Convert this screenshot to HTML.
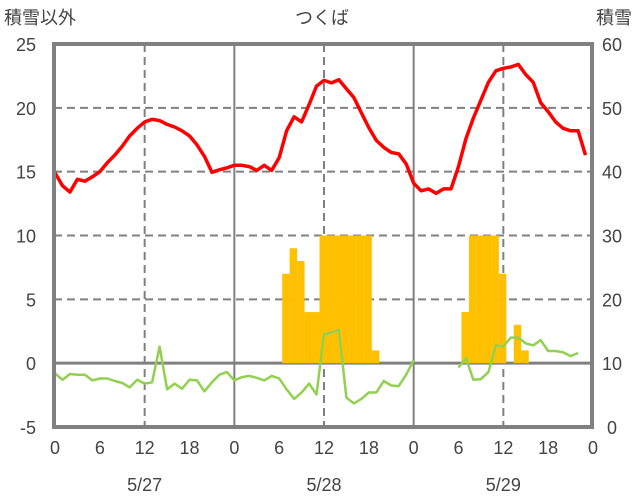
<!DOCTYPE html>
<html><head><meta charset="utf-8">
<style>
body{margin:0;background:#fff;}
svg{display:block;font-family:"Liberation Sans","Noto Sans CJK JP",sans-serif;}
</style></head>
<body>
<svg id="chart" width="636" height="501" viewBox="0 0 636 501" xmlns="http://www.w3.org/2000/svg">
<text x="4" y="24" font-size="18" fill="#444">積雪以外</text>
<text x="322" y="24" font-size="18" fill="#444" text-anchor="middle">つくば</text>
<text x="632" y="24" font-size="18" fill="#444" text-anchor="end">積雪</text>
<g id="grid"></g>
<g id="bars"></g>
<g id="lines"></g>
<g id="labels"></g>
<rect x="54" y="44" width="538" height="383" fill="none" stroke="#808080" stroke-width="4"/>
</svg>
<script>
const hours = 72;
const temp = [14.9,13.9,13.4,14.4,14.25,14.6,15.0,15.7,16.3,17.0,17.8,18.4,18.9,19.1,19.0,18.7,18.5,18.2,17.8,17.1,16.2,14.95,15.15,15.3,15.5,15.5,15.4,15.1,15.5,15.1,16.1,18.2,19.3,18.9,20.25,21.7,22.15,21.95,22.2,21.5,20.8,19.6,18.45,17.45,16.9,16.5,16.4,15.6,14.1,13.5,13.65,13.3,13.65,13.65,15.4,17.6,19.2,20.6,22.0,22.9,23.1,23.2,23.4,22.6,22.0,20.4,19.7,18.9,18.4,18.2,18.2,16.3];
const green = [-0.8,-1.3,-0.85,-0.9,-0.9,-1.35,-1.2,-1.2,-1.4,-1.55,-1.9,-1.3,-1.6,-1.5,1.3,-2.05,-1.6,-2.0,-1.3,-1.35,-2.2,-1.5,-0.9,-0.7,-1.35,-1.1,-1.0,-1.15,-1.35,-1.0,-1.2,-2.05,-2.8,-2.3,-1.6,-2.45,2.25,2.4,2.6,-2.7,-3.15,-2.8,-2.3,-2.3,-1.4,-1.75,-1.8,-0.9,0.25,null,null,null,null,null,-0.35,0.4,-1.3,-1.25,-0.7,1.4,1.3,2.0,2.0,1.55,1.4,1.8,0.95,0.95,0.85,0.55,0.8,null];
const precip = [0,0,0,0,0,0,0,0,0,0,0,0,0,0,0,0,0,0,0,0,0,0,0,0,0,0,0,0,0,0,0,7,9,8,4,4,10,10,10,10,10,10,10,1,0,0,0,0,0,0,0,0,0,0,0,4,10,10,10,10,7,0,3,1,0,0,0,0,0,0,0,0];
const snow = [0,0,0,0,0,0,0,0,0,0];
const leftTicks = [25,20,15,10,5,0,-5];
const rightTicks = [60,50,40,30,20,10,0];
const xTicks = ["0","6","12","18","0","6","12","18","0","6","12","18","0"];
const dates = ["5/27","5/28","5/29"];

const NS="http://www.w3.org/2000/svg";
const X0=54,X1=592,Y0=44,Y1=427;
const xs=h=>X0+(h/hours)*(X1-X0)+1;
const yL=v=>Y1-(v+5)/30*(Y1-Y0);
const yR=v=>Y1-v/60*(Y1-Y0);
function mk(tag,attrs,parent){const e=document.createElementNS(NS,tag);for(const k in attrs)e.setAttribute(k,attrs[k]);document.getElementById(parent).appendChild(e);return e;}

leftTicks.forEach(v=>{
  const y=yL(v);
  if(v!==25&&v!==-5){
    const l=mk('line',{x1:X0,x2:X1,y1:y,y2:y,stroke:'#808080','stroke-width':v===0?3:2,'stroke-dasharray':v===0?'none':'8,5'},'grid');
    
    
  }
  const t=mk('text',{x:36,y:y+7,'font-size':18,fill:'#444','text-anchor':'end'},'labels');
  t.textContent=v;
  
  
});
rightTicks.forEach(v=>{
  const t=mk('text',{x:612,y:yR(v)+7,'font-size':18,fill:'#444','text-anchor':'middle'},'labels');
  t.textContent=v;
  
  
});
xTicks.forEach((s,i)=>{
  const h=i*6,x=xs(h);
  if(i>0&&i<xTicks.length-1&&i%2===0){
    const day=(i%4===0);
    const l=mk('line',{x1:x,x2:x,y1:Y0,y2:Y1,stroke:'#808080','stroke-width':2,'stroke-dasharray':day?'none':'8,5'},'grid');
    
    
  }
  const t=mk('text',{x:x,y:454,'font-size':18,fill:'#444','text-anchor':'middle'},'labels');
  t.textContent=s;
  
  
});
dates.forEach((d,i)=>{
  const t=mk('text',{x:xs(12+24*i),y:491,'font-size':18,fill:'#444','text-anchor':'middle'},'labels');
  t.textContent=d;
  
  
});
precip.forEach((v,h)=>{
  if(!v)return;
  const x=xs(h-0.6),w=xs(h+0.4)-x;
  const r=mk('rect',{x:x,y:yL(v),width:w,height:yL(0)-yL(v),fill:'#FFC000'},'bars');
  
  
});
function line(arr,yf,color,w,name){
  let d='',pen=false;
  arr.forEach((v,h)=>{
    if(v===null){pen=false;return;}
    d+=(pen?'L':'M')+xs(h).toFixed(1)+','+yf(v).toFixed(1);pen=true;
  });
  const p=mk('path',{d:d,fill:'none',stroke:color,'stroke-width':w,'stroke-linejoin':'round'},'lines');
  
  
}
line(green,yL,'#92D050',2.5,'green-series-line');
line(temp,yL,'#FF0000',3.5,'temperature-line');
line(snow,yR,'#7030A0',3,'snow-depth-line');
</script>
</body></html>
